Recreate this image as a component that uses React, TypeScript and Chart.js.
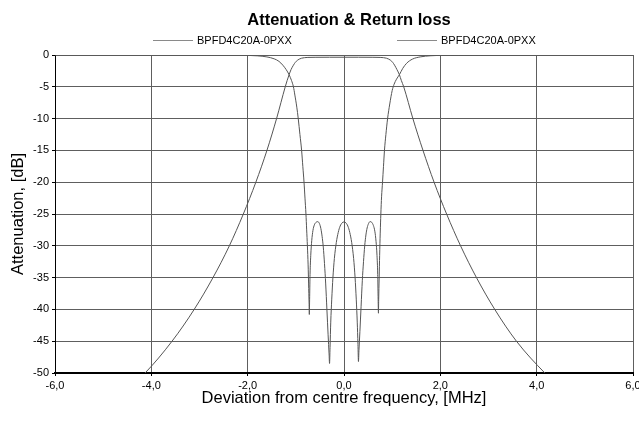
import React, { useEffect, useRef } from "react";
import { Chart, registerables } from "chart.js";

Chart.register(...registerables);

const chartTitle = "Attenuation & Return loss";
const seriesNames = ["BPFD4C20A-0PXX", "BPFD4C20A-0PXX"];
const xAxisTitle = "Deviation from centre frequency, [MHz]";
const yAxisTitle = "Attenuation, [dB]";

// Attenuation (transmission) curve
const attenFreq = [
  -4.4, -4.13, -3.57, -3.11, -2.72, -2.38, -2.09, -1.83, -1.6, -1.4, -1.22, -1.18, -1.14, -1.1,
  -1.05, -1.01, -0.97, -0.93, -0.88, -0.82, -0.75, -0.6, -0.3, 0, 0.3, 0.6, 0.75, 0.82, 0.88,
  0.93, 0.97, 1.01, 1.05, 1.1, 1.15, 1.19, 1.24, 1.43, 1.64, 1.87, 2.13, 2.42, 2.75, 3.13, 3.58,
  4.17, 4.4,
];
const attenDb = [
  -51.8, -50, -45, -40, -35, -30, -25, -20, -15, -10, -5, -4.0, -3.1, -2.3,
  -1.6, -1.15, -0.85, -0.65, -0.5, -0.42, -0.38, -0.36, -0.35, -0.35, -0.35, -0.36, -0.38, -0.42, -0.5,
  -0.65, -0.85, -1.15, -1.6, -2.3, -3.1, -4.0, -5, -10, -15, -20, -25, -30, -35, -40, -45,
  -50, -51.6,
];

// Return loss (reflection) curve
const returnFreq = [
  -6, -3, -2.4, -2.0, -1.8, -1.6, -1.45, -1.35, -1.27, -1.2, -1.14, -1.09, -1.05, -1.02, -0.98,
  -0.95, -0.915, -0.88, -0.855, -0.83, -0.81, -0.79, -0.775, -0.76, -0.745, -0.735, -0.725, -0.72,
  -0.713, -0.705, -0.69, -0.67, -0.645, -0.615, -0.58, -0.545, -0.51, -0.48, -0.455, -0.43, -0.405,
  -0.38, -0.355, -0.33, -0.31, -0.3, -0.29, -0.275, -0.255, -0.23, -0.2, -0.16, -0.12, -0.08, -0.04,
  0, 0.04, 0.08, 0.12, 0.16, 0.2, 0.23, 0.255, 0.275, 0.29, 0.3, 0.31, 0.33, 0.355, 0.38, 0.405,
  0.43, 0.455, 0.48, 0.51, 0.54, 0.575, 0.61, 0.64, 0.665, 0.685, 0.7, 0.708, 0.715, 0.72, 0.73,
  0.74, 0.752, 0.765, 0.78, 0.8, 0.82, 0.84, 0.87, 0.905, 0.95, 1.0, 1.04, 1.09, 1.15, 1.22, 1.3,
  1.42, 1.58, 1.8, 2.0, 2.4, 3, 6,
];
const returnDb = [
  0, 0, -0.02, -0.06, -0.13, -0.3, -0.6, -1.0, -1.6, -2.3, -3.1, -4.0, -5.0, -6.3, -8.2,
  -10, -12.5, -15, -17.5, -20, -22.5, -25, -27.5, -30, -33, -36, -39, -40.8,
  -38, -34.5, -31.5, -29.2, -27.6, -26.7, -26.3, -26.2, -26.5, -27.3, -28.5, -30.2, -32.8,
  -36, -40, -44, -47, -48.5, -46, -42, -38.5, -35, -32, -29.5, -27.9, -26.9, -26.4,
  -26.25, -26.4, -26.9, -27.9, -29.5, -32, -35, -38.5, -42, -45.5, -48.2, -46.5, -43.5, -39.5, -35.5, -32.5,
  -30, -28.3, -27.2, -26.5, -26.2, -26.3, -26.8, -27.7, -29.3, -31.5, -34.5, -38, -40.6, -38.5, -35,
  -31.5, -28, -25, -22.3, -20, -17.5, -15, -12.5, -10, -7.7, -5.6, -4.6, -3.8, -3.1, -2.1, -1.3,
  -0.65, -0.3, -0.12, -0.05, -0.01, 0, 0,
];

const FONT = '"Liberation Sans", Arial, Helvetica, sans-serif';
const CURVE = "#555555";
const GRID = "#5e5e5e";

const toPoints = (xs: number[], ys: number[]) => xs.map((x, i) => ({ x, y: ys[i] }));

const headerPlugin = {
  id: "headerPlugin",
  afterDraw(chart: any) {
    const ctx = chart.ctx as CanvasRenderingContext2D;
    ctx.save();
    ctx.fillStyle = "#000";
    ctx.font = `bold 16.5px ${FONT}`;
    ctx.textAlign = "center";
    ctx.textBaseline = "alphabetic";
    ctx.fillText(chartTitle, 349, 25);

    ctx.font = `11px ${FONT}`;
    ctx.textAlign = "left";
    ctx.textBaseline = "middle";
    const starts = [153, 397];
    chart.data.datasets.forEach((ds: any, i: number) => {
      const x = starts[i];
      const y = 40.5;
      ctx.strokeStyle = "#8a8a8a";
      ctx.lineWidth = 1;
      ctx.beginPath();
      ctx.moveTo(x, y);
      ctx.lineTo(x + 40, y);
      ctx.stroke();
      ctx.fillStyle = "#000";
      ctx.fillText(ds.label, x + 44, 41);
    });
    ctx.restore();
  },
};

export default function App() {
  const canvasRef = useRef<HTMLCanvasElement | null>(null);

  useEffect(() => {
    if (!canvasRef.current) return;
    Chart.defaults.font.family = FONT;
    const chart = new Chart(canvasRef.current, {
      type: "line",
      data: {
        datasets: [
          {
            label: seriesNames[0],
            data: toPoints(attenFreq, attenDb),
            borderColor: CURVE,
            borderWidth: 1,
            pointRadius: 0,
            cubicInterpolationMode: "monotone",
            fill: false,
          },
          {
            label: seriesNames[1],
            data: toPoints(returnFreq, returnDb),
            borderColor: CURVE,
            borderWidth: 1,
            pointRadius: 0,
            cubicInterpolationMode: "monotone",
            fill: false,
          },
        ],
      },
      options: {
        animation: false,
        responsive: false,
        devicePixelRatio: 1,
        layout: { padding: { top: 55, right: 6, left: 0, bottom: 0 } },
        plugins: {
          legend: { display: false },
          title: { display: false },
          tooltip: { enabled: false },
        },
        scales: {
          x: {
            type: "linear",
            min: -6,
            max: 6,
            ticks: {
              stepSize: 2,
              color: "#000",
              font: { size: 11 },
              padding: 3,
              maxRotation: 0,
              autoSkip: false,
              callback: (v: any) => Number(v).toFixed(1).replace(".", ","),
            },
            grid: { color: GRID, tickLength: 3, tickColor: "#000" },
            border: { color: "#000", width: 2 },
            title: {
              display: true,
              text: xAxisTitle,
              color: "#000",
              font: { size: 16.5 },
              padding: { top: 0, bottom: 15 },
            },
            afterFit: (s: any) => {
              s.height = 50;
              s.paddingLeft = 0;
              s.paddingRight = 0;
            },
          },
          y: {
            type: "linear",
            min: -50,
            max: 0,
            ticks: {
              stepSize: 5,
              color: "#000",
              font: { size: 11 },
              padding: 3,
              autoSkip: false,
            },
            grid: { color: GRID, tickLength: 3, tickColor: "#000" },
            border: { color: "#000", width: 1 },
            title: {
              display: true,
              text: yAxisTitle,
              color: "#000",
              font: { size: 16.5 },
              padding: { top: 9, bottom: 0 },
            },
            afterFit: (s: any) => {
              s.width = 55;
              s.paddingTop = 0;
              s.paddingBottom = 0;
            },
          },
        },
      },
      plugins: [headerPlugin],
    } as any);
    return () => chart.destroy();
  }, []);

  return (
    <div style={{ position: "absolute", left: 0, top: 0, width: 639, height: 423, background: "#fff" }}>
      <canvas ref={canvasRef} width={639} height={423} style={{ display: "block" }} />
    </div>
  );
}
